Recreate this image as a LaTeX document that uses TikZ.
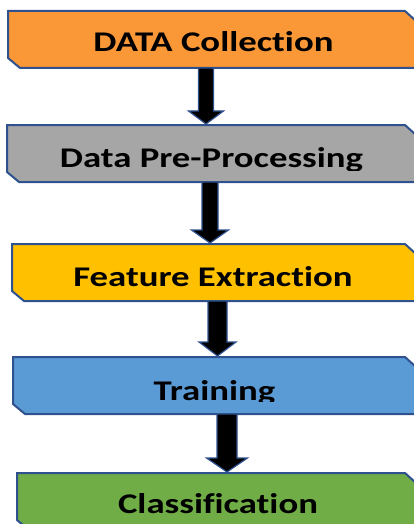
\documentclass[tikz,border=0pt]{standalone}
\usepackage{fontspec}
\setmainfont{Carlito}[Ligatures=NoCommon]
\usetikzlibrary{calc}
\definecolor{cOrange}{RGB}{250,152,55}
\definecolor{cGray}{RGB}{166,166,166}
\definecolor{cYellow}{RGB}{255,192,0}
\definecolor{cBlue}{RGB}{91,155,213}
\definecolor{cGreen}{RGB}{112,173,71}
\definecolor{cEdge}{RGB}{47,82,143}
\tikzset{
  stagebox/.style={rectangle, inner sep=0pt, outer sep=0pt},
  stageedge/.style={draw=cEdge, line width=2pt, line join=miter},
  stagetext/.style={anchor=base, inner sep=0pt, font=\bfseries\fontsize{28.5}{30}\selectfont},
  blockarrow/.style={fill=black, draw=cEdge, line width=1.2pt, line join=miter}
}
\newcommand{\stagelabel}[1]{\scalebox{1.29}[1]{#1}}
% node name, fill colour: draws the snipped-corner box on the node's frame
\newcommand{\snipbox}[2]{%
  \path[stageedge, fill=#2]
    (#1.north west) -- ($(#1.north east)+(-11,0)$) -- ($(#1.north east)+(0,10)$) --
    (#1.south east) -- ($(#1.south west)+(12,0)$) -- ($(#1.south west)+(0,-10)$) -- cycle;}
% from, to, x-coordinate name, shaft half width, head half width, head length
\newcommand{\flowarrow}[6]{%
  \draw[blockarrow]
    ($(#1.south -| #3)+(-#4,0)$) --
    ($(#2.north -| #3)+(-#4,-#6-1)$) --
    ($(#2.north -| #3)+(-#5,-#6-1)$) --
    ($(#2.north -| #3)+(0,-1)$) --
    ($(#2.north -| #3)+(#5,-#6-1)$) --
    ($(#2.north -| #3)+(#4,-#6-1)$) --
    ($(#1.south -| #3)+(#4,0)$) -- cycle;}
\begin{document}
\begin{tikzpicture}[x=1pt,y=-1pt]
\path[use as bounding box, clip] (0,0) rectangle (414,524);
\node[stagebox, minimum width=408pt, minimum height=57pt] (b1) at (212,39.5) {};
\node[stagebox, minimum width=409pt, minimum height=57pt] (b2) at (211.5,153.5) {};
\node[stagebox, minimum width=404pt, minimum height=57pt] (b3) at (214,272.5) {};
\node[stagebox, minimum width=403pt, minimum height=57pt] (b4) at (214.5,385.5) {};
\node[stagebox, minimum width=399pt, minimum height=57pt] (b5) at (216.5,501.5) {};
\snipbox{b1}{cOrange}
\snipbox{b2}{cGray}
\snipbox{b3}{cYellow}
\snipbox{b4}{cBlue}
\snipbox{b5}{cGreen}
\coordinate (x1) at (206,0);
\coordinate (x2) at (210,0);
\coordinate (x3) at (217.5,0);
\coordinate (x4) at (227,0);
\flowarrow{b1}{b2}{x1}{7.5}{17.5}{13}
\flowarrow{b2}{b3}{x2}{8}{18.5}{13}
\flowarrow{b3}{b4}{x3}{9.5}{18.5}{14}
\flowarrow{b4}{b5}{x4}{10}{20.5}{14}
\node[stagetext] (t1) at (213.5,52) {\stagelabel{DATA Collection}};
\begin{scope}
\clip (0,0) rectangle (414,170);
\node[stagetext] (t2) at (211.5,167) {\stagelabel{Data Pre-Processing}};
\end{scope}
\node[stagetext] (t3) at (213,286) {\stagelabel{Feature Extraction}};
\begin{scope}
\clip (0,0) rectangle (414,401.5);
\node[stagetext] (t4) at (214.5,400) {\stagelabel{Training}};
\end{scope}
\node[stagetext] (t5) at (218,513) {\stagelabel{Classification}};
\end{tikzpicture}
\end{document}
